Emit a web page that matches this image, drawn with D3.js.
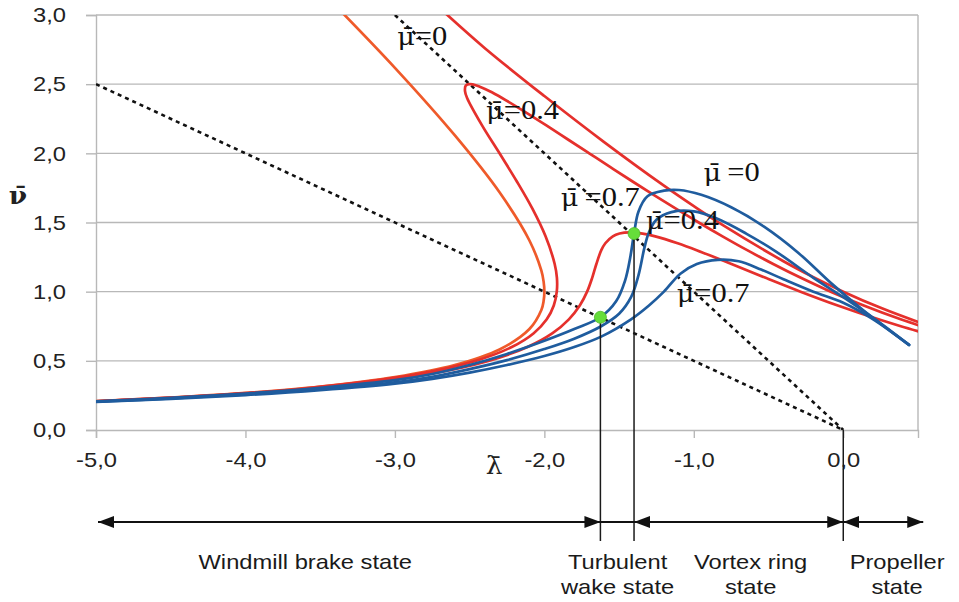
<!DOCTYPE html>
<html><head><meta charset="utf-8">
<script src="https://cdn.jsdelivr.net/npm/d3@7"></script>
<style>body{margin:0;background:#fff}</style>
</head><body><svg id="c" width="959" height="602"></svg>
<script>
// ---- data ----
const yTicks = [0, 0.5, 1, 1.5, 2, 2.5, 3];
const xTicks = [-5, -4, -3, -2, -1, 0];
// momentum theory, mu = 0 (normal working branch)
const redMu0 = [[-2.7,3.05],[-2.4,2.762],[-2.0,2.414],[-1.6,2.081],[-1.2,1.766],[-1.0,1.618],[-0.8,1.477],[-0.4,1.22],[-0.2,1.105],[0,1.0],[0.25,0.883],[0.5,0.781],[0.6,0.744]];
// momentum theory, mu = 0 (windmill branch)
const orangeMu0 = [[-5,0.209],[-4.5,0.234],[-4,0.268],[-3.5,0.314],[-3,0.382],[-2.6,0.469],[-2.3,0.582],[-2.1,0.73],[-2.02,0.868],[-2.005,0.932],[-2.0,1.0],[-2.005,1.073],[-2.02,1.152],[-2.1,1.37],[-2.3,1.718],[-2.6,2.131],[-3.0,2.618],[-3.4,3.07]];
const redMu04 = [[-5.0,0.208],[-4.23,0.25],[-3.609,0.3],[-2.868,0.4],[-2.46,0.5],[-2.218,0.6],[-2.071,0.7],[-1.984,0.8],[-1.937,0.9],[-1.917,1.0],[-1.916,1.1],[-1.931,1.2],[-1.992,1.4],[-2.08,1.6],[-2.186,1.8],[-2.3,2.0],[-2.416,2.2],[-2.517,2.4],[-2.531,2.45],[-2.526,2.49],[-2.5,2.5],[-2.454,2.49],[-2.369,2.45],[-2.283,2.4],[-2.13,2.3],[-1.984,2.2],[-1.842,2.1],[-1.7,2.0],[-1.558,1.9],[-1.415,1.8],[-1.269,1.7],[-1.12,1.6],[-0.967,1.5],[-0.808,1.4],[-0.643,1.3],[-0.469,1.2],[-0.284,1.1],[-0.084,1.0],[0.137,0.9],[0.384,0.8],[0.522,0.75]];
const redMu07 = [[-5.0,0.2065],[-4.188,0.25],[-3.559,0.3],[-2.8,0.4],[-2.374,0.5],[-2.113,0.6],[-1.945,0.7],[-1.836,0.8],[-1.763,0.9],[-1.714,1.0],[-1.68,1.1],[-1.652,1.2],[-1.619,1.3],[-1.592,1.35],[-1.542,1.4],[-1.497,1.42],[-1.429,1.4286],[-1.343,1.42],[-1.258,1.4],[-1.108,1.35],[-0.981,1.3],[-0.748,1.2],[-0.52,1.1],[-0.286,1.0],[-0.037,0.9],[0.236,0.8],[0.385,0.75],[0.545,0.7]];
// empirical curves
const blueMu0 = [[-5,0.207],[-4.5,0.232],[-4,0.264],[-3.5,0.305],[-3,0.36],[-2.75,0.405],[-2.5,0.47],[-2.25,0.55],[-2.0,0.645],[-1.8,0.73],[-1.625,0.815],[-1.52,0.93],[-1.46,1.08],[-1.425,1.25],[-1.4,1.42],[-1.37,1.58],[-1.31,1.69],[-1.2,1.73],[-1.1,1.735],[-0.95,1.7],[-0.75,1.61],[-0.53,1.47],[-0.3,1.28],[-0.08,1.06],[0.14,0.86],[0.44,0.615]];
const blueMu04 = [[-5,0.205],[-4.5,0.228],[-4,0.258],[-3.5,0.297],[-3,0.345],[-2.75,0.385],[-2.5,0.44],[-2.25,0.505],[-2.0,0.585],[-1.8,0.66],[-1.62,0.75],[-1.5,0.84],[-1.42,0.96],[-1.37,1.12],[-1.33,1.32],[-1.3,1.43],[-1.25,1.52],[-1.15,1.575],[-1.0,1.58],[-0.85,1.53],[-0.65,1.42],[-0.45,1.29],[-0.2,1.1],[0.0,0.96],[0.2,0.81],[0.44,0.615]];
const blueMu07 = [[-5,0.203],[-4.5,0.225],[-4,0.252],[-3.5,0.288],[-3,0.335],[-2.75,0.37],[-2.5,0.415],[-2.25,0.47],[-2.0,0.535],[-1.8,0.6],[-1.62,0.675],[-1.42,0.8],[-1.3,0.9],[-1.2,1.0],[-1.09,1.13],[-0.98,1.2],[-0.84,1.23],[-0.7,1.22],[-0.55,1.16],[-0.4,1.09],[-0.2,1.0],[0.0,0.92],[0.2,0.8],[0.44,0.615]];
const dotted1 = [[-5,2.5],[0,0]];
const dotted2 = [[-3,3],[0,0]];
const greenPoints = [[-1.625,0.815],[-1.4,1.42]];
const stateBounds = [-5, -1.625, -1.4, 0, 0.535];
const stateNames = [["Windmill brake state"],["Turbulent","wake state"],["Vortex ring","state"],["Propeller","state"]];
const stateLabelX = [-3.6, -1.51, -0.62, 0.36];
const muLabels = [
  {m:"\u03BC\u0304", t:"=0", l:-2.985, v:2.78},
  {m:"\u03BC\u0304", t:"=0.4", l:-2.39, v:2.25},
  {m:"\u03BC\u0304", t:"\u2009=0.7", l:-1.89, v:1.62},
  {m:"\u03BC\u0304", t:"\u2009=0", l:-0.935, v:1.80},
  {m:"\u03BC\u0304", t:"=0.4", l:-1.32, v:1.45},
  {m:"\u03BC\u0304", t:"=0.7", l:-1.115, v:0.925}
];

// ---- chart ----
const svg = d3.select("#c");
const x = d3.scaleLinear().domain([-5, 0.5]).range([96, 918]);
const y = d3.scaleLinear().domain([0, 3]).range([430, 15]);
const SX = 1.13; // horizontal text stretch
const fmt = d => d3.format(".1f")(d).replace(".", ",").replace("\u2212", "-");

const defs = svg.append("defs");
defs.append("clipPath").attr("id","plot")
  .append("rect").attr("x",x(-5)).attr("y",y(3)).attr("width",x(0.5)-x(-5)).attr("height",y(0)-y(3));

// gridlines
svg.append("g").selectAll("line").data(yTicks.filter(d=>d>0)).join("line")
  .attr("x1",x(-5)).attr("x2",x(0.5)).attr("y1",d=>y(d)).attr("y2",d=>y(d))
  .attr("stroke","#b8b8b8").attr("stroke-width",1.4);
svg.append("line").attr("x1",x(0.5)).attr("x2",x(0.5)).attr("y1",y(3)).attr("y2",y(0))
  .attr("stroke","#b8b8b8").attr("stroke-width",1.4);

// axes
const yAxis = svg.append("g").attr("transform",`translate(${x(-5)},0)`)
  .call(d3.axisLeft(y).tickValues(yTicks).tickSize(10).tickPadding(6).tickFormat(fmt));
const xAxis = svg.append("g").attr("transform",`translate(0,${y(0)})`)
  .call(d3.axisBottom(x).tickValues(xTicks).tickSize(8).tickPadding(14).tickFormat(fmt));
[yAxis, xAxis].forEach(a => {
  a.select(".domain").attr("stroke","#b8b8b8").attr("stroke-width",1.4);
  a.selectAll(".tick line").attr("stroke","#b8b8b8").attr("stroke-width",1.4);
  a.selectAll(".tick text").attr("fill","#222").style("font-family","'Liberation Sans',Arial,sans-serif").style("font-size","21px");
});
yAxis.selectAll(".tick text").attr("transform",`translate(-12,0) scale(${SX},1)`);
xAxis.selectAll(".tick text").attr("transform",`scale(${SX},1)`);

const line = d3.line().x(d=>x(d[0])).y(d=>y(d[1])).curve(d3.curveCatmullRom.alpha(0.5));
const plot = svg.append("g").attr("clip-path","url(#plot)");

// dotted reference lines
[dotted1, dotted2].forEach(d => plot.append("path").attr("d", d3.line().x(p=>x(p[0])).y(p=>y(p[1]))(d))
  .attr("fill","none").attr("stroke","#111").attr("stroke-width",2.6).attr("stroke-dasharray","4,4"));

const curves = [
  {d: orangeMu0, c:"#ef5a2a"},
  {d: redMu0, c:"#e5302c"},
  {d: redMu04, c:"#e5302c"},
  {d: redMu07, c:"#e5302c"},
  {d: blueMu07, c:"#1f5c9e"},
  {d: blueMu04, c:"#1f5c9e"},
  {d: blueMu0, c:"#1f5c9e"}
];
curves.forEach(cv => plot.append("path").attr("d", line(cv.d)).attr("fill","none")
  .attr("stroke",cv.c).attr("stroke-width",2.7).attr("stroke-linecap","round"));

// vertical state boundary lines
const vBottom = 541;
svg.append("g").selectAll("line").data([
  {l:greenPoints[0][0], v:greenPoints[0][1]},
  {l:greenPoints[1][0], v:greenPoints[1][1]},
  {l:0, v:0}
]).join("line").attr("x1",d=>x(d.l)).attr("x2",d=>x(d.l)).attr("y1",d=>y(d.v)).attr("y2",vBottom)
  .attr("stroke","#1a1a1a").attr("stroke-width",1.5);

// green points
svg.append("g").selectAll("circle").data(greenPoints).join("circle")
  .attr("cx",d=>x(d[0])).attr("cy",d=>y(d[1])).attr("r",6)
  .attr("fill","#66dd3a").attr("stroke","#4cb82a").attr("stroke-width",0.8);

// mu labels
const ml = svg.append("g").selectAll("text").data(muLabels).join("text")
  .attr("transform",d=>`translate(${x(d.l)},${y(d.v)}) scale(${SX},1)`)
  .style("font-family","'Liberation Serif','Times New Roman',serif").style("font-size","27px")
  .attr("fill","#111");
ml.append("tspan").style("font-family","'DejaVu Serif',serif").style("font-size","24px").text(d=>d.m);
ml.append("tspan").text(d=>d.t);

// axis titles
svg.append("text").attr("transform",`translate(18,204) scale(1.1,1)`).attr("text-anchor","middle")
  .style("font-family","'DejaVu Serif',serif").style("font-size","24px").style("font-weight","bold").attr("fill","#222").text("\u03BD\u0304");
svg.append("text").attr("transform",`translate(494,474) scale(1.1,1)`).attr("text-anchor","middle")
  .style("font-family","'DejaVu Serif',serif").style("font-size","24px").attr("fill","#222").text("\u03BB\u0304");

// state arrows
defs.append("marker").attr("id","ah").attr("viewBox","0 0 16 12").attr("refX",16).attr("refY",6)
  .attr("markerWidth",16).attr("markerHeight",12).attr("markerUnits","userSpaceOnUse").attr("orient","auto-start-reverse")
  .append("path").attr("d","M0,0 L16,6 L0,12 Z").attr("fill","#111");
const arrowY = 522;
const segs = d3.pairs(stateBounds);
svg.append("g").selectAll("line").data(segs).join("line")
  .attr("x1",d=>x(d[0])+(d[0]===-5?2:0)).attr("x2",d=>x(d[1])).attr("y1",arrowY).attr("y2",arrowY)
  .attr("stroke","#111").attr("stroke-width",1.8)
  .attr("marker-start",(d,i)=>i===1?null:"url(#ah)").attr("marker-end",(d,i)=>i===1?null:"url(#ah)");

// state labels
const sl = svg.append("g").selectAll("text").data(stateNames).join("text")
  .attr("transform",(d,i)=>`translate(${x(stateLabelX[i])},569) scale(${SX},1)`)
  .attr("text-anchor","middle").style("font-family","'Liberation Sans',Arial,sans-serif")
  .style("font-size","21px").attr("fill","#1a1a1a");
sl.selectAll("tspan").data(d=>d).join("tspan").attr("x",0).attr("dy",(d,i)=>i===0?0:25).text(d=>d);
</script></body></html>
